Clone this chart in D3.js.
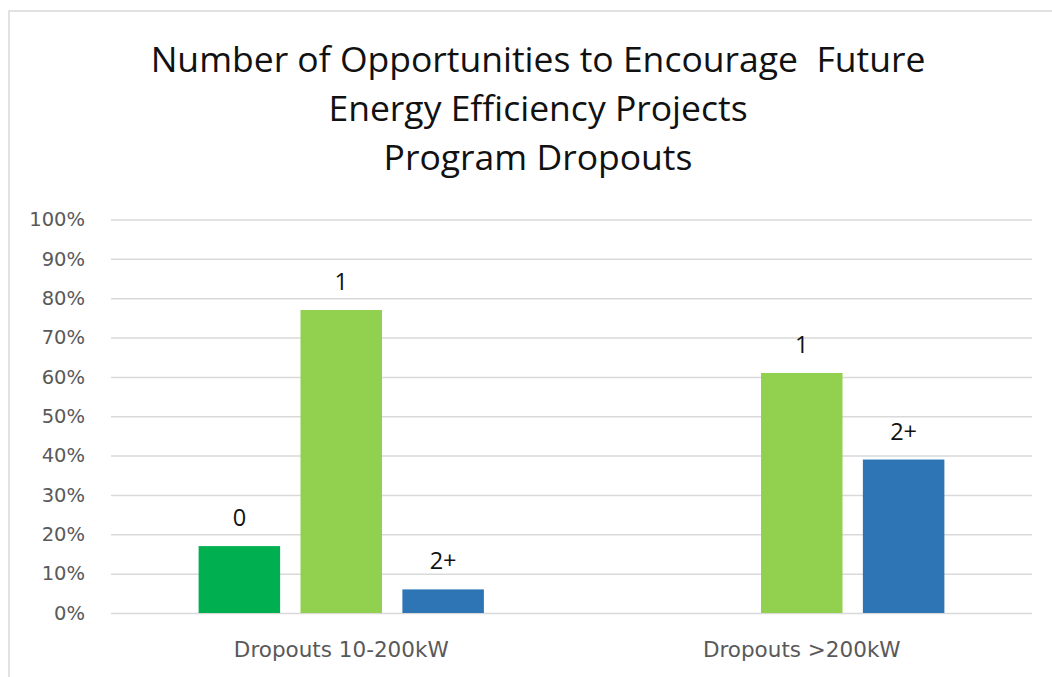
<!DOCTYPE html>
<html>
<head>
<meta charset="utf-8">
<script src="https://cdn.jsdelivr.net/npm/d3@7.9.0/dist/d3.min.js"></script>
<style>
  body { margin: 0; background: #fff; }
  svg { display: block; }
</style>
</head>
<body>
<svg width="1052" height="677"></svg>
<script>
const titleLines = ['Number of Opportunities to Encourage\u00a0 Future', 'Energy Efficiency Projects', 'Program Dropouts'];
const categories = ['Dropouts 10-200kW', 'Dropouts >200kW'];
const seriesNames = ['0', '1', '2+'];
const zeroValues = [17, null];
const oneValues = [77, 61];
const twoPlusValues = [6, 39];
const yTicks = [0, 10, 20, 30, 40, 50, 60, 70, 80, 90, 100];
const colors = ['#00b050', '#92d050', '#2e75b6'];

const seriesValues = [zeroValues, oneValues, twoPlusValues];

let svg = d3.select('svg');

// chart frame (only top and left edges show in the shot)
svg.append('rect')
  .attr('x', 9).attr('y', 11)
  .attr('width', 1200).attr('height', 1000)
  .attr('fill', 'none')
  .attr('stroke', '#d9d9d9')
  .attr('stroke-width', 1.5);

// title
svg.append('g').selectAll('text')
  .data(titleLines)
  .join('text')
  .attr('x', 538)
  .attr('y', (d, i) => 72 + i * 49)
  .attr('text-anchor', 'middle')
  .attr('font-family', 'Open Sans, sans-serif')
  .attr('font-size', 35.5)
  .attr('fill', '#111')
  .text((d) => d);

let plotLeft = 111, plotRight = 1032, plotTop = 219.5, plotBottom = 613;

let x0 = d3.scaleBand().domain(categories).range([plotLeft, plotRight]);
let x1 = d3.scaleBand().domain(seriesNames).range([0, x0.bandwidth()])
  .paddingInner(0.2).paddingOuter(0.86);
let y = d3.scaleLinear().domain([0, 100]).range([plotBottom, plotTop]);

// gridlines + y labels
let yAxis = svg.append('g')
  .attr('transform', `translate(${plotLeft},0)`)
  .call(d3.axisLeft(y).tickValues(yTicks).tickSize(-(plotRight - plotLeft)).tickPadding(26)
    .tickFormat((d) => d + '%'));
yAxis.select('.domain').remove();
yAxis.selectAll('line').attr('stroke', '#d9d9d9').attr('stroke-width', 1.5);
yAxis.selectAll('text')
  .attr('font-family', 'DejaVu Sans, sans-serif')
  .attr('font-size', 19.5)
  .attr('fill', '#595959');

// bars
let rows = [];
categories.forEach((c, ci) => {
  seriesNames.forEach((s, si) => {
    let v = seriesValues[si][ci];
    if (v != null) rows.push({cat: c, name: s, value: v, color: colors[si]});
  });
});

let bars = svg.append('g');
bars.selectAll('rect')
  .data(rows)
  .join('rect')
  .attr('x', (d) => x0(d.cat) + x1(d.name))
  .attr('y', (d) => y(d.value))
  .attr('width', x1.bandwidth())
  .attr('height', (d) => y(0) - y(d.value))
  .attr('fill', (d) => d.color);

// data labels show the series name
bars.selectAll('text')
  .data(rows)
  .join('text')
  .attr('x', (d) => x0(d.cat) + x1(d.name) + x1.bandwidth() / 2)
  .attr('y', (d) => y(d.value) - 20)
  .attr('text-anchor', 'middle')
  .attr('font-family', 'Open Sans, sans-serif')
  .attr('font-size', 23.5)
  .attr('fill', '#111')
  .text((d) => d.name);

// category labels
svg.append('g').selectAll('text')
  .data(categories)
  .join('text')
  .attr('x', (d) => x0(d) + x0.bandwidth() / 2)
  .attr('y', 657)
  .attr('text-anchor', 'middle')
  .attr('font-family', 'DejaVu Sans, sans-serif')
  .attr('font-size', 21.5)
  .attr('fill', '#595959')
  .text((d) => d);
</script>
</body>
</html>
